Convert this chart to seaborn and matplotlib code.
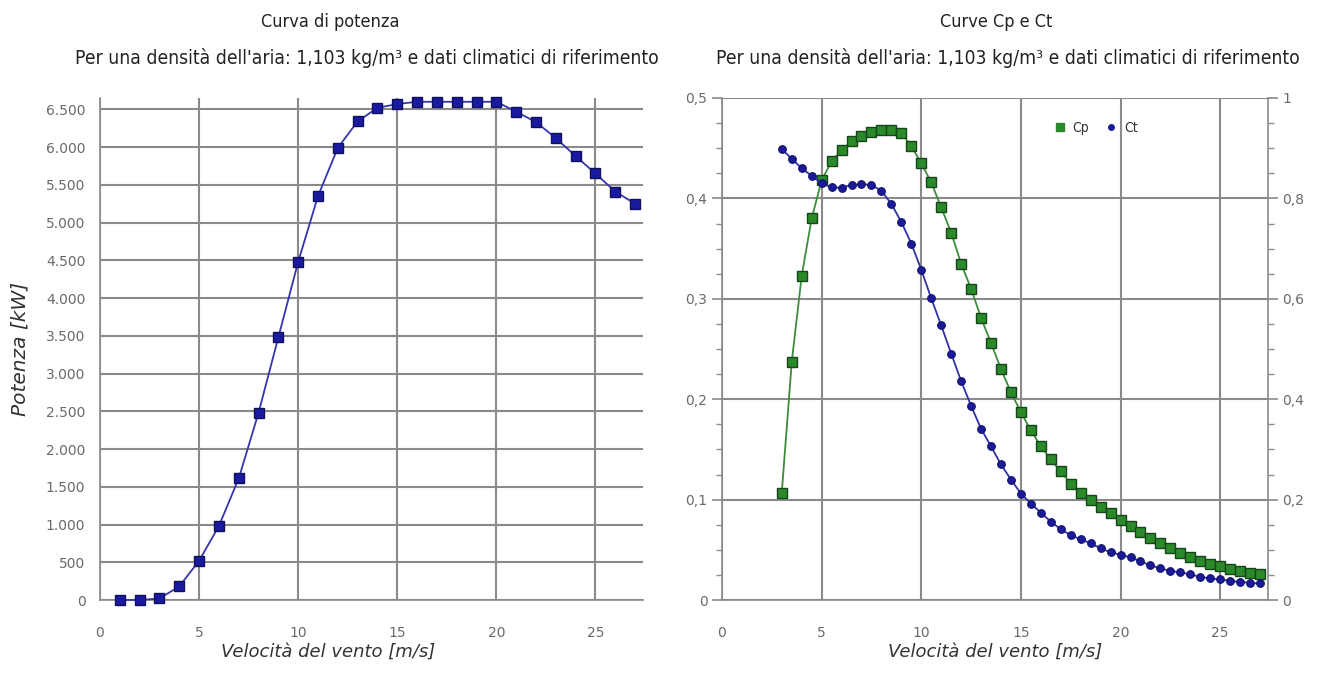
import matplotlib
matplotlib.use("Agg")
import matplotlib.pyplot as plt
import matplotlib.ticker as mticker
from matplotlib.lines import Line2D
import numpy as np
import pandas as pd
import seaborn as sns

# --- power curve ---
wind_speed = [1, 2, 3, 4, 5, 6, 7, 8, 9, 10, 11, 12, 13, 14, 15, 16, 17, 18,
              19, 20, 21, 22, 23, 24, 25, 26, 27]
power_kw = [0, 0, 20, 180, 520, 980, 1610, 2480, 3480, 4480, 5350, 5990, 6340,
            6520, 6570, 6600, 6600, 6600, 6600, 6600, 6470, 6330, 6120, 5880,
            5650, 5410, 5250]

# --- Cp / Ct curves ---
coef_speed = [3.0, 3.5, 4.0, 4.5, 5.0, 5.5, 6.0, 6.5, 7.0, 7.5, 8.0, 8.5, 9.0,
              9.5, 10.0, 10.5, 11.0, 11.5, 12.0, 12.5, 13.0, 13.5, 14.0, 14.5,
              15.0, 15.5, 16.0, 16.5, 17.0, 17.5, 18.0, 18.5, 19.0, 19.5, 20.0,
              20.5, 21.0, 21.5, 22.0, 22.5, 23.0, 23.5, 24.0, 24.5, 25.0, 25.5,
              26.0, 26.5, 27.0]
cp = [0.107, 0.237, 0.323, 0.380, 0.418, 0.437, 0.448, 0.457, 0.462, 0.466,
      0.468, 0.468, 0.465, 0.452, 0.435, 0.416, 0.391, 0.366, 0.335, 0.310,
      0.281, 0.256, 0.230, 0.207, 0.187, 0.169, 0.153, 0.140, 0.128, 0.116,
      0.107, 0.100, 0.093, 0.087, 0.080, 0.074, 0.068, 0.062, 0.057, 0.052,
      0.047, 0.043, 0.039, 0.036, 0.034, 0.031, 0.029, 0.027, 0.026]
ct = [0.898, 0.879, 0.860, 0.845, 0.830, 0.822, 0.821, 0.827, 0.828, 0.827,
      0.815, 0.789, 0.753, 0.710, 0.658, 0.601, 0.547, 0.491, 0.436, 0.387,
      0.341, 0.306, 0.270, 0.240, 0.212, 0.192, 0.174, 0.156, 0.141, 0.129,
      0.121, 0.113, 0.103, 0.095, 0.090, 0.085, 0.077, 0.069, 0.063, 0.058,
      0.055, 0.051, 0.046, 0.043, 0.041, 0.038, 0.036, 0.034, 0.033]

title_left = "Curva di potenza"
title_right = "Curve Cp e Ct"
subtitle = "Per una densità dell'aria: 1,103 kg/m³ e dati climatici di riferimento"
xlabel = "Velocità del vento [m/s]"
ylabel = "Potenza [kW]"

sns.set_style("white")
plt.rcParams['font.family'] = ['DejaVu Sans']

W, H = 1331, 673
fig = plt.figure(figsize=(W / 100, H / 100), dpi=100)


def px_rect(x0, y0, x1, y1):
    return [x0 / W, 1 - y1 / H, (x1 - x0) / W, (y1 - y0) / H]


ax1 = fig.add_axes(px_rect(100, 98, 643, 600))
ax_c = fig.add_axes(px_rect(722, 98, 1268, 600))
ax_t = ax_c.twinx()

grid_col = "#8a8a8a"
tick_col = "#6a6a6a"


def dot_thousands(v, pos):
    return f"{int(round(v)):,}".replace(",", ".")


def comma_dec(v, pos):
    s = f"{v:.1f}".rstrip("0").rstrip(".")
    return s.replace(".", ",")


def style_axis(ax):
    ax.set_facecolor("white")
    for side in ["top", "right"]:
        ax.spines[side].set_visible(False)
    for side in ["left", "bottom"]:
        ax.spines[side].set_color(grid_col)
        ax.spines[side].set_linewidth(1.2)
    ax.set_xlim(0, 27.4)
    ax.xaxis.set_major_locator(mticker.MultipleLocator(5))
    ax.xaxis.set_minor_locator(mticker.MultipleLocator(1))
    ax.grid(True, which="major", color=grid_col, linewidth=1.5)
    ax.tick_params(axis="both", which="both", direction="out", colors=grid_col,
                   labelcolor=tick_col, labelsize=10)
    ax.tick_params(axis="x", which="major", length=13, width=1.2, pad=6)
    ax.tick_params(axis="x", which="minor", length=7, width=1)
    ax.tick_params(axis="y", which="major", length=7, width=1.2)
    ax.tick_params(axis="y", which="minor", length=4, width=1)
    ax.set_xlabel(xlabel, fontsize=13, style="italic", color="#333333",
                  labelpad=2)


# left chart: power curve
df_power = pd.DataFrame({"speed": wind_speed, "power": power_kw})
sns.lineplot(data=df_power, x="speed", y="power", ax=ax1, color="#3535b0",
             linewidth=1.3, marker="s", markersize=7.5, markerfacecolor="#1a1aa0",
             markeredgecolor="#10105a", markeredgewidth=1, clip_on=False,
             zorder=5)
style_axis(ax1)
ax1.set_ylim(0, 6650)
ax1.yaxis.set_major_locator(mticker.MultipleLocator(500))
ax1.yaxis.set_minor_locator(mticker.MultipleLocator(100))
ax1.yaxis.set_major_formatter(mticker.FuncFormatter(dot_thousands))
ax1.xaxis.set_label_coords(0.42, -0.085)
ax1.set_ylabel(ylabel, fontsize=14.5, style="italic", color="#333333")
ax1.yaxis.set_label_coords(-0.13, 0.5)

# right chart: Cp (left axis) and Ct (right axis)
df_coef = pd.DataFrame({"speed": coef_speed, "cp": cp, "ct": ct})
sns.lineplot(data=df_coef, x="speed", y="cp", ax=ax_c, color="#3c8c3c",
             linewidth=1.3, marker="s", markersize=7.5, markerfacecolor="#2a8a2a",
             markeredgecolor="#17451a", markeredgewidth=1, zorder=5)
style_axis(ax_c)
ax_c.set_ylim(0, 0.5)
ax_c.yaxis.set_major_locator(mticker.MultipleLocator(0.1))
ax_c.yaxis.set_minor_locator(mticker.MultipleLocator(0.025))
ax_c.yaxis.set_major_formatter(mticker.FuncFormatter(comma_dec))
ax_c.set_ylabel("")
ax_c.xaxis.set_label_coords(0.5, -0.085)

sns.lineplot(data=df_coef, x="speed", y="ct", ax=ax_t, color="#3030a8",
             linewidth=1.3, marker="o", markersize=5.5, markerfacecolor="#1a1a9a",
             markeredgecolor="#12126a", markeredgewidth=0.8)
ax_t.set_ylim(0, 1)
ax_t.set_xlim(0, 27.4)
ax_t.set_ylabel("")
ax_t.grid(False)
for side in ["top", "left", "bottom"]:
    ax_t.spines[side].set_visible(False)
ax_t.spines["right"].set_color(grid_col)
ax_t.spines["right"].set_linewidth(1.2)
ax_t.yaxis.set_major_locator(mticker.MultipleLocator(0.2))
ax_t.yaxis.set_minor_locator(mticker.MultipleLocator(0.05))
ax_t.yaxis.set_major_formatter(mticker.FuncFormatter(comma_dec))
ax_t.tick_params(axis="y", which="both", direction="out", colors=grid_col,
                 labelcolor=tick_col, labelsize=10)
ax_t.tick_params(axis="y", which="major", length=7, width=1.2)
ax_t.tick_params(axis="y", which="minor", length=4, width=1)

# legend
handles = [
    Line2D([], [], linestyle="none", marker="s", markersize=6,
           markerfacecolor="#2a8a2a", markeredgecolor="#2a8a2a"),
    Line2D([], [], linestyle="none", marker="o", markersize=4,
           markerfacecolor="#1a1a9a", markeredgecolor="#1a1a9a"),
]
fig.legend(handles, ["Cp", "Ct"], loc="center left",
           bbox_to_anchor=(1042 / W, 1 - 128 / H), ncol=2, frameon=False,
           handlelength=0.8, handletextpad=0.5, columnspacing=1.2,
           prop=dict(size=10, stretch="condensed"), labelcolor="#333333")

# titles
title_kw = dict(ha="center", va="center", color="#222222",
                fontstretch="condensed")
fig.text(330 / W, 1 - 22 / H, title_left, fontsize=13, **title_kw)
fig.text(367 / W, 1 - 58 / H, subtitle, fontsize=13.9, **title_kw)
fig.text(996 / W, 1 - 22 / H, title_right, fontsize=13, **title_kw)
fig.text(1008 / W, 1 - 58 / H, subtitle, fontsize=13.9, **title_kw)

fig.savefig("out.png", dpi=100, facecolor="white")
